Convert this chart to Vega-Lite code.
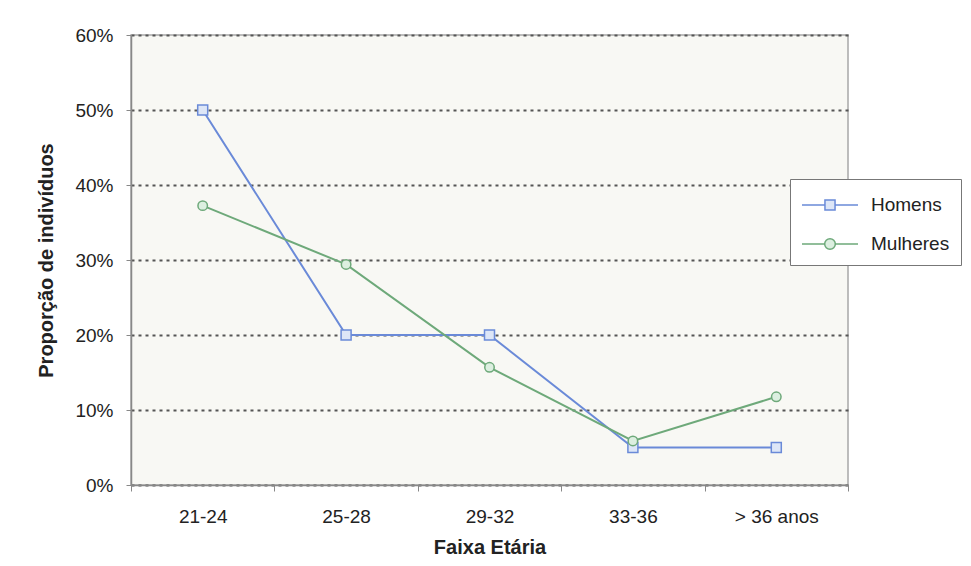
{
  "$schema": "https://vega.github.io/schema/vega-lite/v6.json",
  "width": 717,
  "height": 450,
  "autosize": {"type": "none"},
  "padding": {"left": 131, "top": 35, "right": 123, "bottom": 81},
  "background": "white",
  "config": {
    "font": "Liberation Sans",
    "view": {"fill": "#f8f8f4", "stroke": "#a8a8a8", "strokeWidth": 1.5}
  },
  "data": {
    "values": [
      {"faixa": "21-24", "sexo": "Homens", "prop": 0.50},
      {"faixa": "25-28", "sexo": "Homens", "prop": 0.20},
      {"faixa": "29-32", "sexo": "Homens", "prop": 0.20},
      {"faixa": "33-36", "sexo": "Homens", "prop": 0.05},
      {"faixa": "> 36 anos", "sexo": "Homens", "prop": 0.05},
      {"faixa": "21-24", "sexo": "Mulheres", "prop": 0.3725},
      {"faixa": "25-28", "sexo": "Mulheres", "prop": 0.2941},
      {"faixa": "29-32", "sexo": "Mulheres", "prop": 0.1569},
      {"faixa": "33-36", "sexo": "Mulheres", "prop": 0.0588},
      {"faixa": "> 36 anos", "sexo": "Mulheres", "prop": 0.1176}
    ]
  },
  "encoding": {
    "x": {
      "field": "faixa",
      "type": "ordinal",
      "sort": ["21-24", "25-28", "29-32", "33-36", "> 36 anos"],
      "scale": {"type": "band", "paddingInner": 0, "paddingOuter": 0},
      "axis": {
        "title": "Faixa Etária",
        "titleFontSize": 20,
        "titleFontWeight": "bold",
        "titleColor": "#222",
        "titlePadding": 11,
        "labelAngle": 0,
        "labelFontSize": 19,
        "labelColor": "#222",
        "labelPadding": 16,
        "tickBand": "extent",
        "tickSize": 6,
        "tickColor": "#888",
        "domainColor": "#888",
        "domainWidth": 1.5,
        "grid": false
      }
    },
    "y": {
      "field": "prop",
      "type": "quantitative",
      "scale": {"domain": [0, 0.6], "nice": false},
      "axis": {
        "title": "Proporção de indivíduos",
        "titleFontSize": 20,
        "titleFontWeight": "bold",
        "titleColor": "#222",
        "titlePadding": 18,
        "values": [0, 0.1, 0.2, 0.3, 0.4, 0.5, 0.6],
        "format": ".0%",
        "labelFontSize": 19,
        "labelColor": "#222",
        "labelPadding": 13,
        "tickSize": 5,
        "tickColor": "#888",
        "domainColor": "#888",
        "domainWidth": 1.5,
        "grid": true,
        "gridColor": "#555",
        "gridWidth": 2,
        "gridDash": [3, 4]
      }
    },
    "color": {
      "field": "sexo",
      "type": "nominal",
      "scale": {"domain": ["Homens", "Mulheres"], "range": ["#6a8ad8", "#6ea97a"]},
      "legend": {
        "title": null,
        "orient": "none",
        "legendX": 659,
        "legendY": 144,
        "fillColor": "white",
        "strokeColor": "#777",
        "padding": 11,
        "symbolSize": 784,
        "symbolOffset": 14,
        "symbolStrokeWidth": 1.5,
        "symbolOpacity": 1,
        "labelOffset": 26,
        "labelFontSize": 19,
        "labelColor": "#222",
        "rowPadding": 14
      }
    }
  },
  "layer": [
    {"mark": {"type": "line", "strokeWidth": 2}},
    {
      "transform": [{"filter": "datum.sexo === 'Homens'"}],
      "mark": {"type": "point", "shape": "square", "size": 100, "strokeWidth": 1.5, "opacity": 1, "fill": "#dde6f7"}
    },
    {
      "transform": [{"filter": "datum.sexo === 'Mulheres'"}],
      "mark": {"type": "point", "shape": "circle", "size": 90, "strokeWidth": 1.5, "opacity": 1, "fill": "#dcefe0"}
    },
    {
      "mark": {"type": "point", "strokeWidth": 1.5, "opacity": 0},
      "encoding": {
        "shape": {
          "field": "sexo",
          "type": "nominal",
          "scale": {
            "domain": ["Homens", "Mulheres"],
            "range": [
              "M-2,0H-0.36M0.36,0H2M-0.36,-0.36H0.36V0.36H-0.36Z",
              "M-2,0H-0.38M0.38,0H2M0.38,0A0.38,0.38 0 1 1 -0.38,0A0.38,0.38 0 1 1 0.38,0Z"
            ]
          },
          "legend": {"title": null, "symbolOpacity": 1}
        },
        "fill": {
          "field": "sexo",
          "type": "nominal",
          "scale": {"domain": ["Homens", "Mulheres"], "range": ["#dde6f7", "#dcefe0"]},
          "legend": {"title": null, "symbolOpacity": 1}
        }
      }
    }
  ]
}
